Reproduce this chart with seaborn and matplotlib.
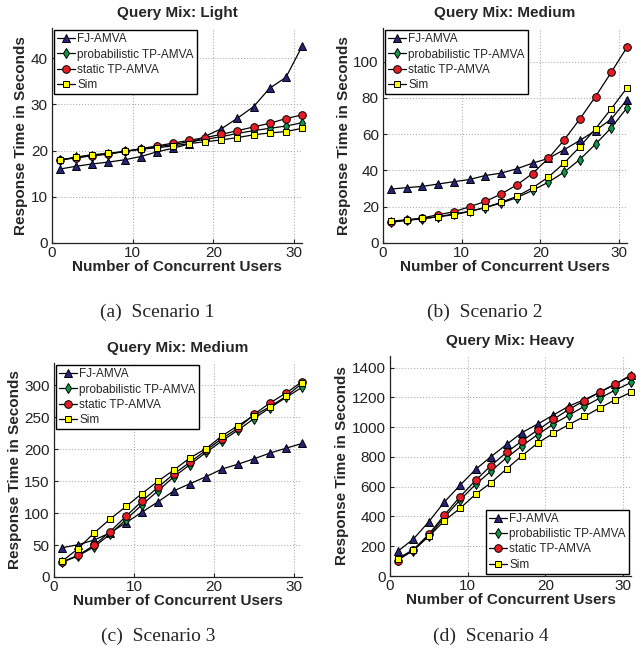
import numpy as np
import pandas as pd
import matplotlib
matplotlib.use("Agg")
import matplotlib.pyplot as plt
import seaborn as sns

# number of concurrent users (same for all four scenarios)
users = [1, 3, 5, 7, 9, 11, 13, 15, 17, 19, 21, 23, 25, 27, 29, 31]

# scenario 1 - query mix light
s1_fj = [16.0, 16.6, 17.1, 17.5, 18.0, 18.7, 19.7, 20.5, 21.4, 23.1, 24.7, 27.0, 29.5, 33.5, 35.8, 42.5]
s1_prob = [18.0, 18.5, 18.9, 19.3, 19.8, 20.3, 20.8, 21.3, 21.9, 22.4, 23.0, 23.7, 24.3, 24.8, 25.3, 26.0]
s1_static = [18.0, 18.4, 18.9, 19.2, 19.8, 20.4, 21.0, 21.6, 22.2, 22.8, 23.5, 24.3, 25.1, 25.9, 26.9, 27.7]
s1_sim = [17.9, 18.6, 19.1, 19.4, 19.8, 20.3, 20.6, 21.0, 21.5, 21.9, 22.3, 22.8, 23.4, 23.8, 24.1, 24.8]

# scenario 2 - query mix medium
s2_fj = [29.7, 30.5, 31.2, 32.5, 33.8, 35.0, 37.2, 38.5, 40.9, 44.0, 46.6, 51.4, 56.5, 62.0, 68.3, 79.0]
s2_prob = [11.8, 12.5, 13.3, 14.5, 16.0, 17.5, 19.5, 22.0, 25.0, 29.0, 33.5, 39.0, 46.0, 54.5, 63.5, 74.5]
s2_static = [11.4, 12.5, 13.8, 15.6, 17.2, 20.0, 22.9, 27.0, 32.0, 38.3, 46.6, 56.7, 68.3, 80.7, 94.1, 107.9]
s2_sim = [12.0, 12.8, 13.6, 14.4, 15.6, 17.3, 19.6, 22.4, 25.7, 30.4, 36.3, 44.0, 53.0, 63.0, 74.0, 85.5]

# scenario 3 - query mix medium
s3_fj = [45.8, 50.5, 57.8, 69.0, 85.0, 101.6, 117.7, 135.0, 146.0, 157.0, 169.0, 176.6, 185.0, 194.0, 201.6, 209.0]
s3_prob = [23.0, 33.0, 47.0, 67.0, 90.0, 113.0, 135.0, 157.0, 176.0, 195.0, 213.0, 230.0, 248.0, 265.0, 281.0, 297.0]
s3_static = [23.4, 34.0, 49.5, 71.0, 95.0, 118.8, 140.6, 161.5, 179.7, 198.4, 216.7, 233.0, 254.7, 272.4, 288.0, 305.7]
s3_sim = [24.5, 44.3, 68.8, 90.6, 110.4, 130.7, 150.0, 167.7, 186.5, 201.0, 220.8, 237.0, 252.6, 266.7, 282.8, 303.0]

# scenario 4 - query mix heavy
s4_fj = [166, 248, 365, 498, 609, 716, 802, 884, 964, 1021, 1081, 1141, 1185, 1234, 1289, 1351]
s4_prob = [110, 170, 270, 395, 510, 615, 705, 795, 875, 950, 1020, 1080, 1140, 1195, 1250, 1300]
s4_static = [104, 177, 281, 410, 532, 642, 742, 831, 908, 981, 1052, 1119, 1178, 1236, 1291, 1345]
s4_sim = [117, 177, 266, 372, 454, 549, 627, 720, 809, 893, 959, 1017, 1072, 1130, 1185, 1234]

methods = ["FJ-AMVA", "probabilistic TP-AMVA", "static TP-AMVA", "Sim"]
titles = ["Query Mix: Light", "Query Mix: Medium", "Query Mix: Medium", "Query Mix: Heavy"]
captions = ["(a)  Scenario 1", "(b)  Scenario 2", "(c)  Scenario 3", "(d)  Scenario 4"]
yticks = [[0, 10, 20, 30, 40],
          [0, 20, 40, 60, 80, 100],
          [0, 50, 100, 150, 200, 250, 300],
          [0, 200, 400, 600, 800, 1000, 1200, 1400]]
ytops = [46.5, 118.5, 335, 1478]

scenarios = [
    [s1_fj, s1_prob, s1_static, s1_sim],
    [s2_fj, s2_prob, s2_static, s2_sim],
    [s3_fj, s3_prob, s3_static, s3_sim],
    [s4_fj, s4_prob, s4_static, s4_sim],
]

# marker style per method
styles = {
    "FJ-AMVA": dict(marker="^", markerfacecolor="#24247a", markersize=6),
    "probabilistic TP-AMVA": dict(marker="d", markerfacecolor="#0a9a48", markersize=5.5),
    "static TP-AMVA": dict(marker="o", markerfacecolor="#e81c24", markersize=5.5),
    "Sim": dict(marker="s", markerfacecolor="#ffff00", markersize=4.5),
}

sns.set_style("ticks")
plt.rcParams["font.family"] = ["Liberation Sans", "DejaVu Sans"]

W, H = 644, 654
fig = plt.figure(figsize=(W / 100, H / 100), dpi=100)

# axes boxes in pixels: left, top, right, bottom
boxes = [(52, 28, 302, 243), (383, 28, 627, 243),
         (54, 363, 302, 577), (390, 356, 631, 576)]
legend_locs = ["upper left", "upper left", "upper left", "lower right"]
caption_y = [312, 312, 636, 636]

for i, (l, t, r, b) in enumerate(boxes):
    ax = fig.add_axes([l / W, 1 - b / H, (r - l) / W, (b - t) / H])
    rows = []
    for m, vals in zip(methods, scenarios[i]):
        for u, v in zip(users, vals):
            rows.append({"users": u, "time": v, "method": m})
    df = pd.DataFrame(rows)
    for m in methods:
        sub = df[df["method"] == m]
        sns.lineplot(data=sub, x="users", y="time", ax=ax, color="black",
                     linewidth=0.9, markeredgecolor="black", markeredgewidth=0.7,
                     label=m, clip_on=False, zorder=3, **styles[m])
    ax.set_xlim(0, 31)
    ax.set_ylim(0, ytops[i])
    ax.set_xticks([0, 10, 20, 30])
    ax.set_yticks(yticks[i])
    ax.grid(True, linestyle=":", color="#b0b0b0", linewidth=0.8)
    ax.tick_params(direction="in", length=3, labelsize=11, colors="#222222")
    ax.tick_params(axis="x", pad=2)
    ax.tick_params(axis="y", pad=3)
    sns.despine(ax=ax)
    for s in ["left", "bottom"]:
        ax.spines[s].set_linewidth(0.9)
        ax.spines[s].set_color("#222222")
    ax.set_xlabel("Number of Concurrent Users", fontsize=11, fontweight="bold", labelpad=0)
    ax.set_ylabel("Response Time in Seconds", fontsize=11, fontweight="bold", labelpad=2)
    ax.set_title(titles[i], fontsize=11, fontweight="bold", pad=8)
    leg = ax.legend(loc=legend_locs[i], fontsize=8.5, frameon=True, fancybox=False,
                    edgecolor="black", framealpha=1, borderpad=0.25,
                    labelspacing=0.28, handlelength=1.5, handletextpad=0.2,
                    borderaxespad=0.2)
    leg.get_frame().set_linewidth(1.0)
    fig.text(((l + r) / 2 - 20) / W, 1 - caption_y[i] / H, captions[i],
             ha="center", va="center", fontsize=14, family="Liberation Serif")

plt.savefig("out.png", dpi=100)
plt.close()
